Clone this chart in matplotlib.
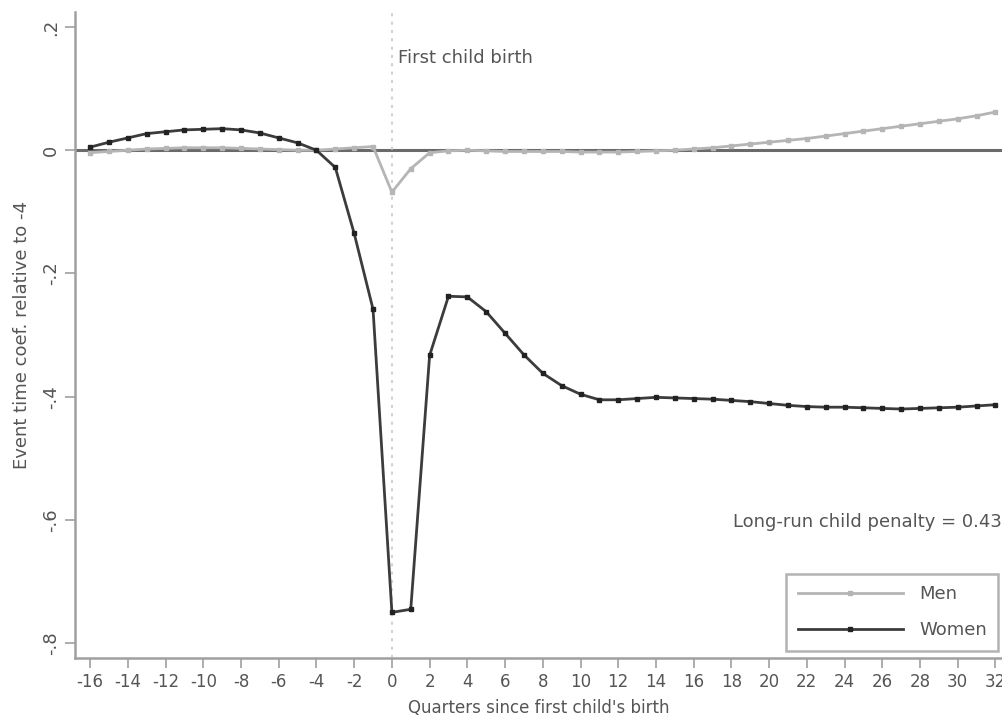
import matplotlib
matplotlib.use("Agg")
import matplotlib.pyplot as plt
from matplotlib.lines import Line2D

plt.rcParams['font.family'] = ['DejaVu Sans']

quarters = list(range(-16, 33))
women = [0.005, 0.013, 0.020, 0.027, 0.030, 0.033, 0.034, 0.035, 0.033, 0.028,
         0.020, 0.012, 0.000, -0.028, -0.135, -0.258, -0.750, -0.745, -0.333,
         -0.237, -0.238, -0.262, -0.297, -0.332, -0.362, -0.382, -0.396, -0.405,
         -0.405, -0.403, -0.401, -0.402, -0.403, -0.404, -0.406, -0.408, -0.411,
         -0.414, -0.416, -0.417, -0.417, -0.418, -0.419, -0.420, -0.419, -0.418,
         -0.417, -0.415, -0.413]
men = [-0.004, -0.002, 0.000, 0.002, 0.003, 0.004, 0.004, 0.004, 0.003, 0.002,
       0.001, 0.000, 0.000, 0.002, 0.004, 0.006, -0.068, -0.030, -0.004, -0.001,
       0.000, -0.001, -0.002, -0.002, -0.002, -0.002, -0.003, -0.003, -0.003,
       -0.002, -0.001, 0.000, 0.002, 0.004, 0.007, 0.010, 0.013, 0.016, 0.019,
       0.023, 0.027, 0.031, 0.035, 0.039, 0.043, 0.047, 0.051, 0.056, 0.062]
xticks = list(range(-16, 33, 2))
yticks = [0.2, 0.0, -0.2, -0.4, -0.6, -0.8]
ytick_labels = [".2", "0", "-.2", "-.4", "-.6", "-.8"]

men_color = "#b5b5b5"
women_color = "#3c3c3c"
axis_color = "#a0a0a0"
text_color = "#555555"
fs = 13

fig = plt.figure(figsize=(10.03, 7.18), dpi=100)
ax = fig.add_axes([0.0748, 0.0836, 0.9252, 0.8994])

ax.axhline(0, color="#6a6a6a", lw=2.2, zorder=1)
ax.axvline(0, color="#d2d2d2", lw=1.5, ls=(0, (1.5, 2.5)), zorder=1)

ax.plot(quarters, men, color=men_color, lw=2.0, marker="s", ms=3,
        mfc=men_color, mec=men_color, zorder=3)
ax.plot(quarters, women, color=women_color, lw=2.0, marker="s", ms=3.2,
        mfc="#222222", mec="#222222", zorder=4)

ax.set_xlim(-16.8, 32.4)
ax.set_ylim(-0.824, 0.224)
ax.set_xticks(xticks)
ax.set_xticklabels([str(v) for v in xticks])
ax.set_yticks(yticks)
ax.set_yticklabels(ytick_labels, rotation=90, va="center")

for s in ["top", "right"]:
    ax.spines[s].set_visible(False)
for s in ["left", "bottom"]:
    ax.spines[s].set_color(axis_color)
    ax.spines[s].set_linewidth(1.8)
ax.tick_params(axis="both", colors=axis_color, labelcolor=text_color,
               labelsize=fs, length=7, width=1.2, direction="out", pad=4)
ax.tick_params(axis="x", labelsize=12, pad=4)

ax.set_xlabel("Quarters since first child's birth", fontsize=12,
              color=text_color)
ax.xaxis.set_label_coords(0.5, -0.0635)
ax.set_ylabel("Event time coef. relative to -4", fontsize=fs,
              color=text_color, labelpad=8)

ax.text(0.35, 0.149, "First child birth", fontsize=fs, color=text_color,
        ha="left", va="center")
ax.text(32.35, -0.603, "Long-run child penalty = 0.43", fontsize=fs,
        color=text_color, ha="right", va="center")

handles = [
    Line2D([], [], color=men_color, lw=2.0, marker="s", ms=3,
           mfc=men_color, mec=men_color),
    Line2D([], [], color=women_color, lw=2.0, marker="s", ms=3.2,
           mfc="#222222", mec="#222222"),
]
leg = ax.legend(handles, ["Men", "Women"], loc="lower right",
                bbox_to_anchor=(0.999, 0.005), fontsize=fs, frameon=True,
                fancybox=False, handlelength=5.8, labelspacing=1.0,
                borderpad=0.65, handletextpad=0.9, borderaxespad=0.2,
                labelcolor=text_color)
leg.get_frame().set_edgecolor(axis_color)
leg.get_frame().set_linewidth(1.8)

fig.savefig("out.png", dpi=100, facecolor="white")
